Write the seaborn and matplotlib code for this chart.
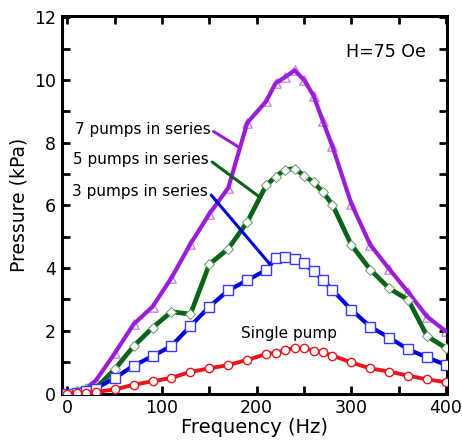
import matplotlib
matplotlib.use('Agg')
import matplotlib.pyplot as plt
import seaborn as sns
import pandas as pd
from matplotlib.ticker import MultipleLocator

#%% datos
freq = [0, 10, 20, 30, 50, 70, 90, 110, 130, 150, 170, 190, 210, 220, 230, 240,
        250, 260, 270, 280, 300, 320, 340, 360, 380, 400]

single = [0, 0.01, 0.02, 0.05, 0.13, 0.28, 0.39, 0.5, 0.69, 0.8, 0.91, 1.07, 1.26,
          1.3, 1.38, 1.46, 1.44, 1.37, 1.31, 1.21, 0.99, 0.8, 0.7, 0.57, 0.45, 0.36]

three = [0, 0.03, 0.09, 0.16, 0.49, 0.89, 1.19, 1.52, 2.15, 2.77, 3.29, 3.61, 3.94,
         4.31, 4.36, 4.28, 4.15, 3.9, 3.62, 3.3, 2.67, 2.13, 1.78, 1.41, 1.15, 0.91]

five = [0, 0.09, 0.13, 0.17, 0.77, 1.51, 2.1, 2.61, 2.53, 4.12, 4.62, 5.47, 6.64,
        6.92, 7.14, 7.17, 6.95, 6.74, 6.42, 6.02, 4.74, 3.95, 3.35, 2.99, 1.83, 1.45]

seven = [0, 0.09, 0.18, 0.41, 1.28, 2.21, 2.77, 3.69, 4.77, 5.73, 6.56, 8.63, 9.32,
         9.9, 10.09, 10.31, 10.0, 9.5, 8.68, 7.88, 6.05, 4.74, 3.97, 3.23, 2.45, 1.98]

labels = ['7 pumps in series', '5 pumps in series', '3 pumps in series']

df = pd.DataFrame({'freq': freq, 'single': single, 'three': three,
                   'five': five, 'seven': seven})

#%% figura
sns.set_style('ticks')
plt.rcParams['font.family'] = ['DejaVu Sans']
plt.rcParams['text.color'] = 'black'
plt.rcParams['axes.labelcolor'] = 'black'
plt.rcParams['axes.edgecolor'] = 'black'
plt.rcParams['xtick.color'] = 'black'
plt.rcParams['ytick.color'] = 'black'

fig = plt.figure(figsize=(4.62, 4.44), dpi=100)
ax = fig.add_axes([0.1335, 0.1137, 0.833, 0.851])

purple = '#9a1ed8'
green = '#0b6318'
blue = '#0000dc'
red = '#e8161c'

# 7 bombas: triangulos debajo de la linea
sns.scatterplot(data=df, x='freq', y='seven', ax=ax, marker='^', s=45,
                color='white', edgecolor='#c07af0', linewidth=0.9, zorder=2)
sns.lineplot(data=df, x='freq', y='seven', ax=ax, color=purple, lw=3.0, zorder=3)

sns.lineplot(data=df, x='freq', y='five', ax=ax, color=green, lw=3.4, zorder=4,
             marker='D', markersize=5, markerfacecolor='white',
             markeredgecolor='#6a9a6a', markeredgewidth=0.7)

sns.lineplot(data=df, x='freq', y='three', ax=ax, color=blue, lw=3.0, zorder=5,
             marker='s', markersize=6.5, markerfacecolor='white',
             markeredgecolor='#3a3aff', markeredgewidth=1.0)

sns.lineplot(data=df, x='freq', y='single', ax=ax, color=red, lw=2.8, zorder=6,
             marker='o', markersize=6, markerfacecolor='white',
             markeredgecolor=red, markeredgewidth=1.0)

# etiquetas con lineas guia
guias = [(labels[0], (151, 8.42), (181, 7.86), purple),
         (labels[1], (149.5, 7.46), (202.5, 6.28), green),
         (labels[2], (148.5, 6.45), (213.8, 4.13), blue)]
for txt, pos_txt, pos_pt, c in guias:
    ax.annotate(txt, xy=pos_pt, xytext=pos_txt, ha='right', va='center',
                fontsize=11, zorder=7,
                arrowprops=dict(arrowstyle='-', color=c, lw=2.2,
                                shrinkA=0, shrinkB=0, relpos=(1, 0.5)))

ax.text(234, 1.9, 'Single pump', ha='center', va='center', fontsize=11)
ax.text(379, 10.9, 'H=75 Oe', ha='right', va='center', fontsize=12.5)

ax.set_xlim(-6, 400.5)
ax.set_ylim(0, 12.05)
ax.xaxis.set_major_locator(MultipleLocator(100))
ax.xaxis.set_minor_locator(MultipleLocator(50))
ax.yaxis.set_major_locator(MultipleLocator(2))
ax.yaxis.set_minor_locator(MultipleLocator(1))
ax.tick_params(which='both', direction='in', top=True, right=True,
               length=6, width=2, labelsize=12.5, pad=4)
for s in ax.spines.values():
    s.set_linewidth(2.2)

ax.set_xlabel('Frequency (Hz)', fontsize=14, labelpad=1)
ax.set_ylabel('Pressure (kPa)', fontsize=13.5, labelpad=4)

fig.savefig('out.png', dpi=100)
